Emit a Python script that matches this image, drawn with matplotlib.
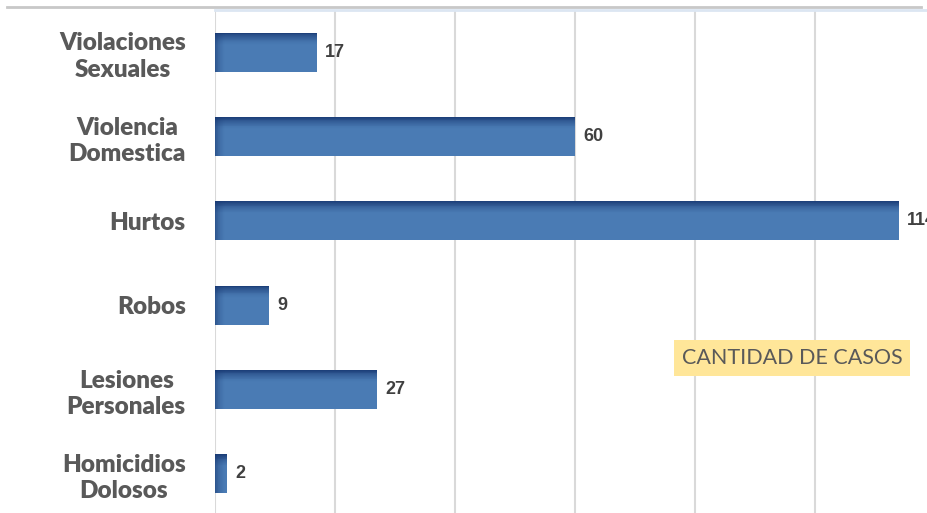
import numpy as np
import matplotlib
matplotlib.use("Agg")
import matplotlib.pyplot as plt
from matplotlib.lines import Line2D

categories = [
    "Violaciones\nSexuales",
    "Violencia\nDomestica",
    "Hurtos",
    "Robos",
    "Lesiones\nPersonales",
    "Homicidios\nDolosos",
]
values = [17, 60, 114, 9, 27, 2]
x_ticks = [0, 20, 40, 60, 80, 100]
box_text = "CANTIDAD DE CASOS"

W, H = 928, 513
fig = plt.figure(figsize=(W / 100, H / 100), dpi=100)
ax = fig.add_axes([215 / W, -3 / H, (W - 215) / W, (516 - 10) / H])

n = len(categories)
y = np.arange(n)[::-1]  # first category on top
bar_h = 0.46
bars = ax.barh(y, values, height=bar_h, color="#4a7bb4", zorder=3)

# office-like shading: dark navy along the top edge and the left edge
dark = "#163670"
n_strips = 14
top_depth = 0.14   # data units (~12 px)
left_depth = 1.6   # data units (~10 px)
for b in bars:
    x0, y0 = b.get_x(), b.get_y()
    w, h = b.get_width(), b.get_height()
    ytop = y0 + h
    for k in range(n_strips):
        f = k / n_strips
        a = 0.85 * (1 - f) ** 1.6
        ax.barh(ytop - top_depth * (k + 0.5) / n_strips, w, height=top_depth / n_strips,
                left=x0, color=dark, alpha=a, linewidth=0, zorder=4)
        lw = min(left_depth, w) / n_strips
        ax.barh(y0 + h / 2, lw, height=h, left=x0 + lw * k,
                color=dark, alpha=0.55 * (1 - f) ** 1.5, linewidth=0, zorder=4)
    ax.annotate(f"{int(w)}", (x0 + w, y0 + h / 2), xytext=(6, 0),
                textcoords="offset points", va="center", ha="left",
                fontsize=13, fontweight="bold", color="#404040",
                family="Liberation Sans", zorder=5)

ax.set_xticks(x_ticks)
ax.set_xticklabels([])
ax.set_xlim(0, (W - 215) / 6.0)
ax.set_ylim(-0.5, n - 0.5)
ax.tick_params(axis="x", length=0)
ax.grid(axis="x", color="#d9d9d9", linewidth=1.5, zorder=0)
ax.set_axisbelow(True)

ax.set_yticks(y)
ax.set_yticklabels(categories, fontsize=17.5, fontweight="heavy", color="#595959",
                   family="Lato", multialignment="center", linespacing=1.25)
ax.tick_params(axis="y", length=0, pad=21)

for s in ["left", "right", "bottom"]:
    ax.spines[s].set_visible(False)
ax.spines["top"].set_color("#dce6f2")
ax.spines["top"].set_linewidth(2)

fig.add_artist(Line2D([7 / W, 921 / W], [1 - 7 / H, 1 - 7 / H],
                      color="#c8c8c8", linewidth=2, transform=fig.transFigure))

fig.text(792 / W, 1 - 358 / H, box_text, ha="center", va="center",
         fontsize=15.5, color="#595959", family="Lato",
         bbox=dict(boxstyle="square,pad=0.35", facecolor="#ffe699", edgecolor="none"))

fig.savefig("out.png", dpi=100)
